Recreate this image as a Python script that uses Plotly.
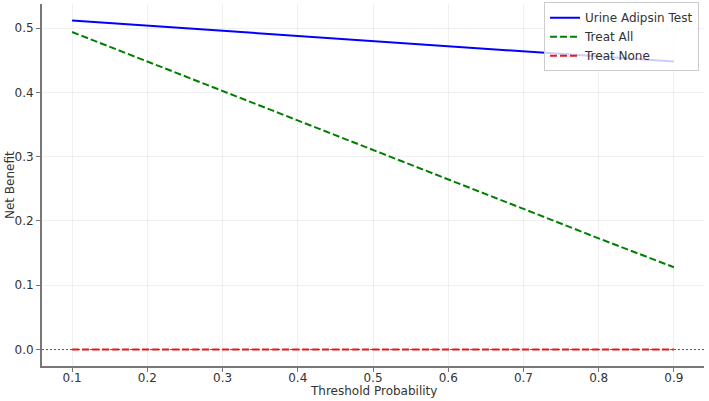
import plotly.graph_objects as go

thresholds = [0.1, 0.2, 0.3, 0.4, 0.5, 0.6, 0.7, 0.8, 0.9]
urine_adipsin = [0.512, 0.504, 0.496, 0.488, 0.480, 0.472, 0.464, 0.456, 0.448]
treat_all = [0.494, 0.448, 0.403, 0.357, 0.311, 0.265, 0.219, 0.173, 0.128]
treat_none = [0, 0, 0, 0, 0, 0, 0, 0, 0]
x_ticks = [0.1, 0.2, 0.3, 0.4, 0.5, 0.6, 0.7, 0.8, 0.9]
y_ticks = [0.0, 0.1, 0.2, 0.3, 0.4, 0.5]

font = "DejaVu Sans"
fig = go.Figure()
fig.add_trace(go.Scatter(x=thresholds, y=urine_adipsin, mode="lines", name="Urine Adipsin Test",
                         line=dict(color="#0000ff", width=2)))
fig.add_trace(go.Scatter(x=thresholds, y=treat_all, mode="lines", name="Treat All",
                         line=dict(color="#008000", width=2, dash="7px,3px")))
fig.add_trace(go.Scatter(x=thresholds, y=treat_none, mode="lines", name="Treat None",
                         line=dict(color="#e41a1c", width=2, dash="7px,3px")))

fig.add_shape(type="line", xref="paper", x0=0, x1=1, yref="y", y0=0, y1=0,
              line=dict(color="rgba(60,60,60,0.8)", width=1, dash="2px,2px"), layer="below")

fig.add_annotation(text="Threshold Probability", xref="paper", yref="paper", x=0.5, y=-0.069,
                   xanchor="center", yanchor="middle", showarrow=False,
                   font=dict(family=font, size=12, color="#333333"))
fig.add_annotation(text="Net Benefit", xref="paper", yref="paper", x=-0.0483, y=0.5,
                   xanchor="center", yanchor="middle", showarrow=False, textangle=-90,
                   font=dict(family=font, size=12, color="#333333"))

fig.update_layout(
    width=709, height=401,
    margin=dict(l=42, r=5, t=4, b=35, autoexpand=False),
    plot_bgcolor="white", paper_bgcolor="white",
    font=dict(family=font, size=12, color="#333333"),
    showlegend=True,
    legend=dict(x=0.9925, xanchor="right", y=1.005, yanchor="top",
                bgcolor="rgba(255,255,255,0.8)", bordercolor="#cccccc", borderwidth=1,
                font=dict(family=font, size=12, color="#333333"),
                tracegroupgap=0, itemwidth=30),
    xaxis=dict(range=[0.06, 0.94], tickvals=x_ticks, ticktext=[f"{v:.1f}" for v in x_ticks],
               showline=True, linecolor="#777777", linewidth=2, mirror=False,
               ticks="outside", ticklen=4, tickcolor="#777777",
               tickfont=dict(size=12, color="#333333"), automargin=False,
               showgrid=True, gridcolor="rgba(0,0,0,0.06)", gridwidth=1, zeroline=False),
    yaxis=dict(range=[-0.0256, 0.5376], tickvals=y_ticks, ticktext=[f"{v:.1f}" for v in y_ticks],
               showline=True, linecolor="#777777", linewidth=2, mirror=False,
               ticks="outside", ticklen=4, tickcolor="#777777",
               tickfont=dict(size=12, color="#333333"), automargin=False,
               showgrid=True, gridcolor="rgba(0,0,0,0.06)", gridwidth=1, zeroline=False),
)

try:
    fig.layout.xaxis.ticklabelstandoff = -4
except Exception:
    pass

fig.write_html("out.html")
